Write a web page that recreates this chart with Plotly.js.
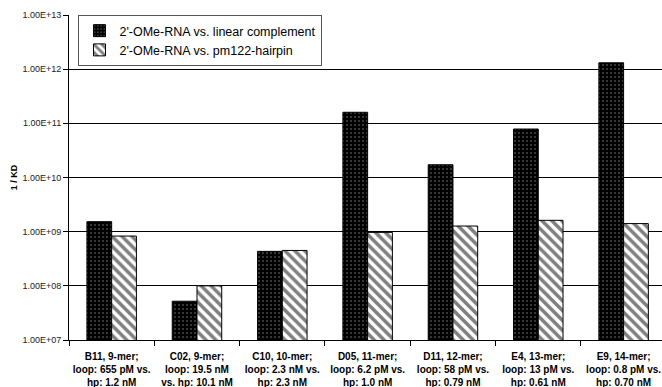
<!DOCTYPE html>
<html>
<head>
<meta charset="utf-8">
<script src="https://cdn.plot.ly/plotly-3.0.1.min.js"></script>
<style>html,body{margin:0;padding:0;background:#fff;}#chart{width:662px;height:387px;}</style>
</head>
<body>
<div id="chart"></div>
<script>
const categories = [
  "B11, 9-mer;<br>loop: 655 pM vs.<br>hp: 1.2 nM",
  "C02, 9-mer;<br>loop: 19.5 nM<br>vs. hp: 10.1 nM",
  "C10, 10-mer;<br>loop: 2.3 nM vs.<br>hp: 2.3 nM",
  "D05, 11-mer;<br>loop: 6.2 pM vs.<br>hp: 1.0 nM",
  "D11, 12-mer;<br>loop: 58 pM vs.<br>hp: 0.79 nM",
  "E4, 13-mer;<br>loop: 13 pM vs.<br>hp: 0.61 nM",
  "E9, 14-mer;<br>loop: 0.8 pM vs.<br>hp: 0.70 nM"
];
const linearComplement = [1.53e9, 5.2e7, 4.33e8, 1.6e11, 1.72e10, 7.85e10, 1.31e12];
const hairpin = [8.3e8, 1.0e8, 4.5e8, 9.7e8, 1.27e9, 1.62e9, 1.41e9];
const yTickVals = [1e7, 1e8, 1e9, 1e10, 1e11, 1e12, 1e13];
const yTickText = ["1.00E+07", "1.00E+08", "1.00E+09", "1.00E+10", "1.00E+11", "1.00E+12", "1.00E+13"];
const seriesNames = ["2'-OMe-RNA vs. linear complement", "2'-OMe-RNA vs. pm122-hairpin"];

const font = "Liberation Sans, Arial, sans-serif";

const traces = [
  {
    type: "bar", x: categories, y: linearComplement, name: seriesNames[0],
    marker: {
      color: "#000",
      line: {color: "#000", width: 1},
      pattern: {shape: ".", bgcolor: "#000", fgcolor: "#fff", size: 4, solidity: 0.12, fillmode: "overlay"}
    }
  },
  {
    type: "bar", x: categories, y: hairpin, name: seriesNames[1],
    marker: {
      color: "#fff",
      line: {color: "#000", width: 1},
      pattern: {shape: "\\", bgcolor: "#fff", fgcolor: "#000", size: 7, solidity: 0.5, fillmode: "overlay"}
    }
  }
];

const layout = {
  width: 662, height: 387,
  margin: {l: 69, r: 0, t: 15, b: 47},
  paper_bgcolor: "#fff", plot_bgcolor: "#fff",
  barmode: "group", bargap: 0.42, bargroupgap: 0,
  showlegend: true,
  legend: {
    x: 0.016, y: 1, xanchor: "left", yanchor: "top",
    bordercolor: "#555", borderwidth: 1, bgcolor: "#fff",
    font: {family: font, size: 12.5, color: "#000"},
    tracegroupgap: 4, itemwidth: 30
  },
  xaxis: {
    type: "category",
    range: [-0.5, 6.45],
    tickson: "boundaries",
    tickangle: 0,
    ticks: "outside", ticklen: 5, tickcolor: "#000",
    ticklabelstandoff: 7,
    showline: true, linecolor: "#000", linewidth: 1,
    showgrid: false,
    tickfont: {family: font, size: 10, color: "#000", weight: "bold"},
    fixedrange: true
  },
  yaxis: {
    type: "log",
    range: [7, 13],
    tickvals: yTickVals, ticktext: yTickText,
    ticks: "outside", ticklen: 5, tickcolor: "#000",
    showline: true, linecolor: "#000", linewidth: 1,
    showgrid: true, gridcolor: "#000", gridwidth: 1,
    zeroline: false,
    tickfont: {family: font, size: 9, color: "#222"},
    title: {text: "1 / KD", font: {family: font, size: 9, color: "#000", weight: "bold"}, standoff: 3},
    fixedrange: true
  }
};

Plotly.newPlot("chart", traces, layout, {displayModeBar: false, staticPlot: true});
</script>
</body>
</html>
